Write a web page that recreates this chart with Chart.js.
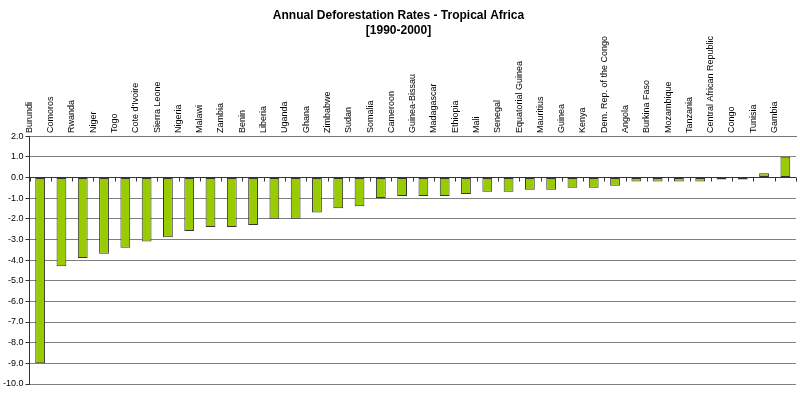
<!DOCTYPE html>
<html>
<head>
<meta charset="utf-8">
<script src="https://cdn.jsdelivr.net/npm/chart.js@4/dist/chart.umd.min.js"></script>
<style>
  html, body { margin: 0; padding: 0; background: #fff; }
</style>
</head>
<body>
<canvas id="grafico" width="800" height="395"></canvas>
<script>
var paises = ["Burundi", "Comoros", "Rwanda", "Niger", "Togo", "Cote d'Ivoire", "Sierra Leone",
    "Nigeria", "Malawi", "Zambia", "Benin", "Liberia", "Uganda", "Ghana", "Zimbabwe", "Sudan",
    "Somalia", "Cameroon", "Guinea-Bissau", "Madagascar", "Ethiopia", "Mali", "Senegal",
    "Equatorial Guinea", "Mauritius", "Guinea", "Kenya", "Dem. Rep. of the Congo", "Angola",
    "Burkina Faso", "Mozambique", "Tanzania", "Central African Republic", "Congo", "Tunisia", "Gambia"];

var taxas = [-9.0, -4.3, -3.9, -3.7, -3.4, -3.1, -2.9, -2.6, -2.4, -2.4, -2.3, -2.0, -2.0, -1.7,
    -1.5, -1.4, -1.0, -0.9, -0.9, -0.9, -0.8, -0.7, -0.7, -0.6, -0.6, -0.5, -0.5, -0.4,
    -0.2, -0.2, -0.2, -0.2, -0.1, -0.1, 0.2, 1.0];

var titulo = ["Annual Deforestation Rates - Tropical Africa", "[1990-2000]"];
var eixoMin = -10;
var eixoMax = 2;

// marquinhas no eixo zero entre as categorias
var marcasZero = {
    id: 'marcasZero',
    afterDatasetsDraw: function(chart) {
        var ctx = chart.ctx;
        var x = chart.scales.x;
        var y0 = Math.round(chart.scales.y.getPixelForValue(0)) + 0.5;
        ctx.save();
        ctx.strokeStyle = '#333';
        ctx.lineWidth = 1;
        ctx.beginPath();
        ctx.moveTo(chart.chartArea.left, y0);
        ctx.lineTo(chart.chartArea.right, y0);
        for (var i = 0; i <= paises.length; i++) {
            var px = Math.round(x.getPixelForValue(i - 0.5)) + 0.5;
            ctx.moveTo(px, y0);
            ctx.lineTo(px, y0 + 4);
        }
        ctx.stroke();
        ctx.restore();
    }
};

var ctx = document.getElementById('grafico').getContext('2d');
window.grafico = new Chart(ctx, {
    type: 'bar',
    data: {
        labels: paises,
        datasets: [{
            label: 'Taxa',
            data: taxas,
            backgroundColor: '#99CC00',
            borderColor: '#333333',
            borderWidth: 1,
            borderSkipped: false,
            categoryPercentage: 0.46,
            barPercentage: 1
        }]
    },
    options: {
        responsive: false,
        animation: false,
        maintainAspectRatio: false,
        layout: { padding: { left: 1, right: 4, top: 4, bottom: 11 } },
        plugins: {
            legend: { display: false },
            tooltip: { enabled: false },
            title: {
                display: true,
                text: titulo,
                color: '#000',
                font: { family: 'Liberation Sans, Arial', size: 12, weight: 'bold', lineHeight: 1.25 },
                padding: { top: 4, bottom: -5 }
            }
        },
        scales: {
            x: {
                position: 'top',
                grid: { display: false, drawTicks: false },
                border: { display: true, color: '#777' },
                ticks: {
                    autoSkip: false,
                    maxRotation: 90,
                    minRotation: 90,
                    padding: 3,
                    color: '#000',
                    font: { family: 'Liberation Sans, Arial', size: 9 }
                }
            },
            y: {
                min: eixoMin,
                max: eixoMax,
                grid: {
                    color: '#808080',
                    tickLength: 4,
                    tickColor: '#333'
                },
                border: { display: true, color: '#333' },
                ticks: {
                    stepSize: 1,
                    autoSkip: false,
                    padding: 2,
                    color: '#000',
                    font: { family: 'Liberation Sans, Arial', size: 9 },
                    callback: function(v) { return Number(v).toFixed(1); }
                }
            }
        }
    },
    plugins: [marcasZero]
});
</script>
</body>
</html>
